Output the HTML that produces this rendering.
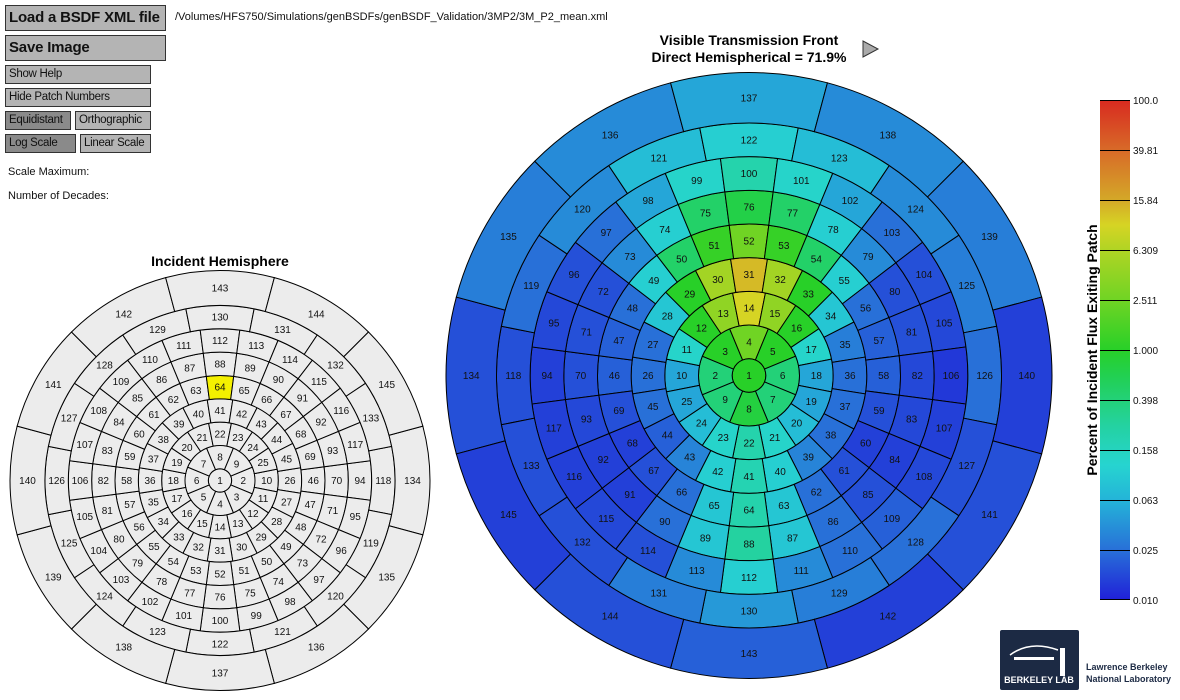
<!DOCTYPE html>
<html><head><meta charset="utf-8"><style>
body{margin:0;width:1180px;height:700px;background:#fff;overflow:hidden;font-family:"Liberation Sans",sans-serif;position:relative}
.b{position:absolute;background:#b4b4b4;border:1px solid #333;box-sizing:border-box;font-size:11.5px;letter-spacing:-0.3px;padding-left:3px;line-height:16px;color:#111;white-space:nowrap;overflow:hidden}
.d{background:#8a8a8a}
.t{position:absolute;font-size:11px;color:#111;white-space:nowrap}
svg{position:absolute;left:0;top:0}
</style></head><body>
<div class="b" style="left:5px;top:5px;width:161px;height:26px;font-size:15px;font-weight:bold;line-height:24px;letter-spacing:-0.2px">Load a BSDF XML file</div>
<div class="b" style="left:5px;top:35px;width:161px;height:26px;font-size:15px;font-weight:bold;line-height:24px;letter-spacing:-0.2px">Save Image</div>
<div class="b" style="left:5px;top:65px;width:146px;height:19px">Show Help</div>
<div class="b" style="left:5px;top:88px;width:146px;height:19px">Hide Patch Numbers</div>
<div class="b d" style="left:5px;top:111px;width:66px;height:19px">Equidistant</div>
<div class="b" style="left:75px;top:111px;width:76px;height:19px">Orthographic</div>
<div class="b d" style="left:5px;top:134px;width:71px;height:19px">Log Scale</div>
<div class="b" style="left:80px;top:134px;width:71px;height:19px">Linear Scale</div>
<div class="t" style="left:8px;top:166px">Scale Maximum:</div>
<div class="t" style="left:8px;top:190px">Number of Decades:</div>
<div class="t" style="left:175px;top:11px">/Volumes/HFS750/Simulations/genBSDFs/genBSDF_Validation/3MP2/3M_P2_mean.xml</div>
<svg width="1180" height="700" xmlns="http://www.w3.org/2000/svg" font-family="Liberation Sans, sans-serif">
<text x="220" y="266" text-anchor="middle" font-size="14" font-weight="bold">Incident Hemisphere</text>
<text x="749" y="45" text-anchor="middle" font-size="14" font-weight="bold">Visible Transmission Front</text>
<text x="749" y="62" text-anchor="middle" font-size="14" font-weight="bold">Direct Hemispherical = 71.9%</text>
<polygon points="863,41 863,57 878,49" fill="#aaa" stroke="#333" stroke-width="1"/>
<g id="LP" stroke="#000" stroke-width="1"></g>
<g id="RP" stroke="#000" stroke-width="1"></g>
<g id="LL" font-size="10" text-anchor="middle" fill="#111"><text>1</text><text>2</text><text>3</text><text>4</text><text>5</text><text>6</text><text>7</text><text>8</text><text>9</text><text>10</text><text>11</text><text>12</text><text>13</text><text>14</text><text>15</text><text>16</text><text>17</text><text>18</text><text>19</text><text>20</text><text>21</text><text>22</text><text>23</text><text>24</text><text>25</text><text>26</text><text>27</text><text>28</text><text>29</text><text>30</text><text>31</text><text>32</text><text>33</text><text>34</text><text>35</text><text>36</text><text>37</text><text>38</text><text>39</text><text>40</text><text>41</text><text>42</text><text>43</text><text>44</text><text>45</text><text>46</text><text>47</text><text>48</text><text>49</text><text>50</text><text>51</text><text>52</text><text>53</text><text>54</text><text>55</text><text>56</text><text>57</text><text>58</text><text>59</text><text>60</text><text>61</text><text>62</text><text>63</text><text>64</text><text>65</text><text>66</text><text>67</text><text>68</text><text>69</text><text>70</text><text>71</text><text>72</text><text>73</text><text>74</text><text>75</text><text>76</text><text>77</text><text>78</text><text>79</text><text>80</text><text>81</text><text>82</text><text>83</text><text>84</text><text>85</text><text>86</text><text>87</text><text>88</text><text>89</text><text>90</text><text>91</text><text>92</text><text>93</text><text>94</text><text>95</text><text>96</text><text>97</text><text>98</text><text>99</text><text>100</text><text>101</text><text>102</text><text>103</text><text>104</text><text>105</text><text>106</text><text>107</text><text>108</text><text>109</text><text>110</text><text>111</text><text>112</text><text>113</text><text>114</text><text>115</text><text>116</text><text>117</text><text>118</text><text>119</text><text>120</text><text>121</text><text>122</text><text>123</text><text>124</text><text>125</text><text>126</text><text>127</text><text>128</text><text>129</text><text>130</text><text>131</text><text>132</text><text>133</text><text>134</text><text>135</text><text>136</text><text>137</text><text>138</text><text>139</text><text>140</text><text>141</text><text>142</text><text>143</text><text>144</text><text>145</text></g>
<g id="RL" font-size="10" text-anchor="middle" fill="#111"><text>1</text><text>2</text><text>3</text><text>4</text><text>5</text><text>6</text><text>7</text><text>8</text><text>9</text><text>10</text><text>11</text><text>12</text><text>13</text><text>14</text><text>15</text><text>16</text><text>17</text><text>18</text><text>19</text><text>20</text><text>21</text><text>22</text><text>23</text><text>24</text><text>25</text><text>26</text><text>27</text><text>28</text><text>29</text><text>30</text><text>31</text><text>32</text><text>33</text><text>34</text><text>35</text><text>36</text><text>37</text><text>38</text><text>39</text><text>40</text><text>41</text><text>42</text><text>43</text><text>44</text><text>45</text><text>46</text><text>47</text><text>48</text><text>49</text><text>50</text><text>51</text><text>52</text><text>53</text><text>54</text><text>55</text><text>56</text><text>57</text><text>58</text><text>59</text><text>60</text><text>61</text><text>62</text><text>63</text><text>64</text><text>65</text><text>66</text><text>67</text><text>68</text><text>69</text><text>70</text><text>71</text><text>72</text><text>73</text><text>74</text><text>75</text><text>76</text><text>77</text><text>78</text><text>79</text><text>80</text><text>81</text><text>82</text><text>83</text><text>84</text><text>85</text><text>86</text><text>87</text><text>88</text><text>89</text><text>90</text><text>91</text><text>92</text><text>93</text><text>94</text><text>95</text><text>96</text><text>97</text><text>98</text><text>99</text><text>100</text><text>101</text><text>102</text><text>103</text><text>104</text><text>105</text><text>106</text><text>107</text><text>108</text><text>109</text><text>110</text><text>111</text><text>112</text><text>113</text><text>114</text><text>115</text><text>116</text><text>117</text><text>118</text><text>119</text><text>120</text><text>121</text><text>122</text><text>123</text><text>124</text><text>125</text><text>126</text><text>127</text><text>128</text><text>129</text><text>130</text><text>131</text><text>132</text><text>133</text><text>134</text><text>135</text><text>136</text><text>137</text><text>138</text><text>139</text><text>140</text><text>141</text><text>142</text><text>143</text><text>144</text><text>145</text></g>
<defs><linearGradient id="cb" x1="0" y1="1" x2="0" y2="0">
<stop offset="0" stop-color="#2020d8"/><stop offset="0.1" stop-color="#2870d8"/><stop offset="0.2" stop-color="#24b4d8"/><stop offset="0.27" stop-color="#26d4d0"/><stop offset="0.35" stop-color="#24d2a0"/><stop offset="0.45" stop-color="#22d050"/><stop offset="0.5" stop-color="#28d028"/><stop offset="0.6" stop-color="#70d424"/><stop offset="0.7" stop-color="#b0d424"/><stop offset="0.75" stop-color="#d6d424"/><stop offset="0.8" stop-color="#d4a828"/><stop offset="0.9" stop-color="#d86a28"/><stop offset="1" stop-color="#d82a20"/></linearGradient></defs>
<rect x="1100" y="100" width="30" height="500" fill="url(#cb)"/>
<g stroke="#000" stroke-width="1"><line x1="1100" y1="100.5" x2="1130" y2="100.5"/><line x1="1100" y1="150.5" x2="1130" y2="150.5"/><line x1="1100" y1="200.5" x2="1130" y2="200.5"/><line x1="1100" y1="250.5" x2="1130" y2="250.5"/><line x1="1100" y1="300.5" x2="1130" y2="300.5"/><line x1="1100" y1="350.5" x2="1130" y2="350.5"/><line x1="1100" y1="400.5" x2="1130" y2="400.5"/><line x1="1100" y1="450.5" x2="1130" y2="450.5"/><line x1="1100" y1="500.5" x2="1130" y2="500.5"/><line x1="1100" y1="550.5" x2="1130" y2="550.5"/><line x1="1100" y1="599.5" x2="1130" y2="599.5"/></g>
<g font-size="10" fill="#111"><text x="1133" y="104">100.0</text><text x="1133" y="154">39.81</text><text x="1133" y="204">15.84</text><text x="1133" y="254">6.309</text><text x="1133" y="304">2.511</text><text x="1133" y="354">1.000</text><text x="1133" y="404">0.398</text><text x="1133" y="454">0.158</text><text x="1133" y="504">0.063</text><text x="1133" y="554">0.025</text><text x="1133" y="604">0.010</text></g>
<text transform="translate(1097,350) rotate(-90)" text-anchor="middle" font-size="14" font-weight="bold">Percent of Incident Flux Exiting Patch</text>
<rect x="1000" y="630" width="79" height="60" rx="2" fill="#1c2a44"/>
<path d="M1010 655 Q1030 640 1058 650" stroke="#fff" stroke-width="1.5" fill="none"/>
<rect x="1014" y="657" width="40" height="3" fill="#fff"/>
<rect x="1060" y="648" width="5" height="28" fill="#fff"/>
<text x="1039" y="683" text-anchor="middle" font-size="9" font-weight="bold" fill="#fff">BERKELEY LAB</text>
<text x="1086" y="670" font-size="9" font-weight="bold" fill="#1c2a44">Lawrence Berkeley</text>
<text x="1086" y="682" font-size="9" font-weight="bold" fill="#1c2a44">National Laboratory</text>
</svg>
<script>
var rings=[[0,5,1],[5,15,8],[15,25,16],[25,35,20],[35,45,24],[45,55,24],[55,65,24],[65,75,16],[75,90,12]];
var T=[0.5,
0.4,0.5,0.6,0.5,0.4,0.4,0.47,0.4,
0.18,0.28,0.5,0.65,0.75,0.65,0.5,0.28,0.18,0.18,0.22,0.28,0.33,0.28,0.22,0.18,
0.1,0.1,0.24,0.5,0.68,0.78,0.68,0.5,0.24,0.12,0.1,0.1,0.1,0.13,0.26,0.32,0.26,0.13,0.08,0.1,
0.08,0.08,0.1,0.26,0.42,0.52,0.6,0.52,0.42,0.26,0.1,0.08,0.08,0.06,0.04,0.06,0.1,0.24,0.33,0.24,0.1,0.06,0.04,0.06,
0.06,0.06,0.06,0.14,0.26,0.42,0.46,0.42,0.26,0.14,0.06,0.06,0.05,0.05,0.04,0.06,0.1,0.24,0.35,0.24,0.1,0.04,0.04,0.05,
0.04,0.05,0.06,0.1,0.18,0.28,0.33,0.28,0.18,0.1,0.06,0.05,0.03,0.04,0.05,0.08,0.1,0.14,0.26,0.14,0.06,0.05,0.04,0.04,
0.06,0.1,0.14,0.22,0.26,0.22,0.14,0.12,0.1,0.06,0.1,0.12,0.16,0.12,0.06,0.06,
0.06,0.12,0.14,0.18,0.14,0.12,0.04,0.06,0.04,0.08,0.06,0.04];
var S=[[0,[32,32,216]],[0.1,[40,112,216]],[0.2,[36,180,216]],[0.27,[38,212,208]],[0.35,[36,210,160]],[0.45,[34,208,80]],[0.5,[40,208,40]],[0.6,[112,212,36]],[0.7,[176,212,36]],[0.75,[214,212,36]],[0.8,[212,168,40]],[0.9,[216,106,40]],[1,[216,42,32]]];
function cm(t){for(var i=1;i<S.length;i++){if(t<=S[i][0]){var a=S[i-1],b=S[i],f=(t-a[0])/(b[0]-a[0]);return 'rgb('+[0,1,2].map(function(k){return Math.round(a[1][k]+f*(b[1][k]-a[1][k]))}).join(',')+')';}}return 'rgb(216,42,32)';}
var NS='http://www.w3.org/2000/svg';
function chart(cx,cy,R,rot,pg,lg,fill){
 var labels=document.getElementById(lg).children,g=document.getElementById(pg),idx=0;
 rings.forEach(function(r){
  var r0=r[0]/90*R,r1=r[1]/90*R,n=r[2];
  for(var i=0;i<n;i++){
   var e,c=(rot+i*360/n)*Math.PI/180,h=Math.PI/n;
   if(n==1){e=document.createElementNS(NS,'circle');e.setAttribute('cx',cx);e.setAttribute('cy',cy);e.setAttribute('r',r1);}
   else{var a0=c-h,a1=c+h;
    var d='M'+(cx+r0*Math.cos(a0))+' '+(cy+r0*Math.sin(a0))+'L'+(cx+r1*Math.cos(a0))+' '+(cy+r1*Math.sin(a0))+'A'+r1+' '+r1+' 0 0 1 '+(cx+r1*Math.cos(a1))+' '+(cy+r1*Math.sin(a1))+'L'+(cx+r0*Math.cos(a1))+' '+(cy+r0*Math.sin(a1))+'A'+r0+' '+r0+' 0 0 0 '+(cx+r0*Math.cos(a0))+' '+(cy+r0*Math.sin(a0))+'Z';
    e=document.createElementNS(NS,'path');e.setAttribute('d',d);}
   e.setAttribute('fill',fill(idx));g.appendChild(e);
   var rm=n==1?0:(r0+r1)/2,t=labels[idx];
   t.setAttribute('x',cx+rm*Math.cos(c));t.setAttribute('y',cy+rm*Math.sin(c)+3.5);
   idx++;
  }
 });
}
chart(220,480.5,210,0,'LP','LL',function(i){return i==63?'#f4f000':'#ececec';});
chart(749,375.5,303,180,'RP','RL',function(i){return cm(T[i]);});
</script>
</body></html>
